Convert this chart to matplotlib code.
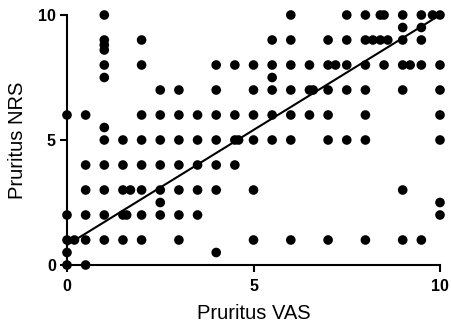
import matplotlib
matplotlib.use("Agg")
import matplotlib.pyplot as plt

plt.rcParams['font.family'] = ['Liberation Sans', 'DejaVu Sans']

# Data: rows of equal NRS value, listing VAS values
rows = {
    10.0: [1, 6, 7.5, 8, 8.4, 8.5, 9, 9.5, 9.8, 10],
    9.5: [9, 9.5],
    9.0: [1, 2, 5.5, 6, 7, 7.5, 8, 8.2, 8.4, 8.6, 9, 9.5],
    8.8: [1],
    8.6: [1],
    8.0: [1, 2, 4, 4.5, 5, 5.5, 6, 6.5, 7, 7.2, 7.5, 8, 8.5, 9, 9.2, 9.5, 10],
    7.5: [1, 5.5],
    7.0: [2.5, 3, 4, 5, 5.5, 6, 6.5, 6.6, 7, 7.5, 8, 9, 10],
    6.0: [0, 0.5, 2, 2.5, 3, 3.5, 4, 4.5, 5, 5.5, 6, 6.5, 7, 8, 10],
    5.5: [1],
    5.0: [1, 1.5, 2, 2.5, 3, 3.5, 4, 4.5, 4.6, 5, 5.5, 6, 7, 7.5, 8, 10],
    4.0: [0.5, 1, 1.5, 2, 2.5, 3, 3.5, 4, 4.5],
    3.0: [0.5, 1, 1.5, 1.7, 2, 2.5, 3, 3.5, 4, 5, 9],
    2.5: [2.5, 10],
    2.0: [0, 0.5, 1, 1.5, 1.6, 2, 2.5, 3, 3.5, 10],
    1.0: [0, 0.2, 0.5, 1, 1.5, 2, 3, 5, 6, 7, 8, 9, 9.5],
    0.5: [0, 4],
    0.0: [0, 0.5],
}
vas = [x for y, xs in rows.items() for x in xs]
nrs = [y for y, xs in rows.items() for x in xs]

fit_x = [0, 10]
fit_y = [0.8, 10.0]

ticks = [0, 5, 10]
xlabel = "Pruritus VAS"
ylabel = "Pruritus NRS"

fig = plt.figure(figsize=(4.51, 3.28), dpi=100)
ax = fig.add_axes([67/451, 1-265/328, (440-67)/451, 250/328])

ax.scatter(vas, nrs, s=48, color='black', edgecolors='none', clip_on=False, zorder=3)
ax.plot(fit_x, fit_y, color='black', lw=1.5, clip_on=False, zorder=2)

ax.set_xlim(0, 10)
ax.set_ylim(0, 10)
ax.set_xticks(ticks)
ax.set_yticks(ticks)
for s in ['top', 'right']:
    ax.spines[s].set_visible(False)
for s in ['left', 'bottom']:
    ax.spines[s].set_linewidth(1.5)
ax.tick_params(direction='out', length=5, width=1.5, labelsize=11.5)
ax.tick_params(axis='x', pad=5)
ax.tick_params(axis='y', pad=3)
for lab in ax.get_xticklabels() + ax.get_yticklabels():
    lab.set_fontweight('bold')
ax.set_xlabel(xlabel, fontsize=14.5, labelpad=7)
ax.set_ylabel(ylabel, fontsize=14.5, labelpad=8)

fig.savefig("out.png", dpi=100)
